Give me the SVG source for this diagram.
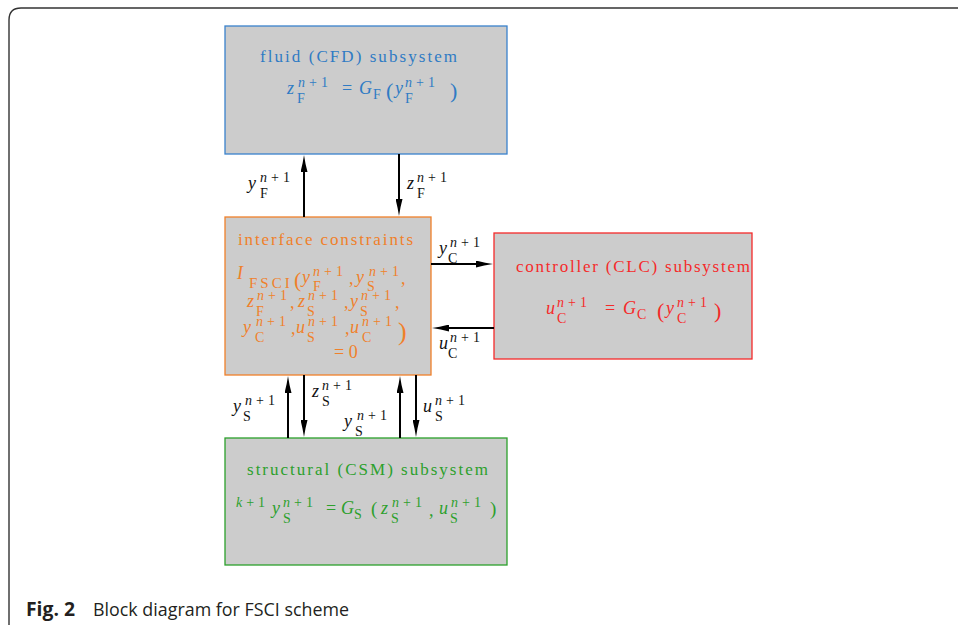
<svg xmlns="http://www.w3.org/2000/svg" width="958" height="625" viewBox="0 0 958 625">
<style>
text{font-family:"Liberation Serif","DejaVu Serif",serif}
.t{font-size:17px}
.m{font-size:18px}
.i{font-style:italic}
.s{font-size:14px;font-style:normal}
.sup{font-size:14px;letter-spacing:4px;font-style:normal}
.p{font-size:22px;font-style:normal}
.box{fill:#cccccc;stroke-width:1.3}
.blue{fill:#2f7bc4}
.orange{fill:#f0802a}
.red{fill:#f52a2a}
.green{fill:#2ca02c}
.k{fill:#111}
.cap{font-family:"Open Sans","Noto Sans","Liberation Sans",sans-serif;font-size:19px;fill:#231f20}
.con line{stroke:#000;stroke-width:2}
</style>
<defs>
<marker id="ah" viewBox="0 0 17 7" refX="9" refY="3.5" markerWidth="17" markerHeight="7" markerUnits="userSpaceOnUse" orient="auto">
<path d="M0,0 Q8,2.2 17,3.5 Q8,4.8 0,7 z" fill="#000"/>
</marker>
</defs>
<path d="M9,625 V20 Q9,8 21,8 H958" fill="none" stroke="#333" stroke-width="1.4"/>

<g id="fluid">
<rect class="box" x="225" y="26" width="282" height="128" stroke="#3a82cc"/>
<text class="t blue" x="260" y="62" textLength="197">fluid (CFD) subsystem</text>
<text class="m blue"><tspan class="i" x="287" y="94">z</tspan><tspan class="sup" x="298" y="87"><tspan class="i">n</tspan>+1</tspan><tspan class="s" x="297" y="103">F</tspan><tspan x="342" y="94">=</tspan><tspan class="i" x="359" y="94">G</tspan><tspan class="s" x="373" y="99">F</tspan><tspan class="p" x="386" y="98">(</tspan><tspan class="i" x="395" y="94">y</tspan><tspan class="sup" x="405" y="87"><tspan class="i">n</tspan>+1</tspan><tspan class="s" x="405" y="103">F</tspan><tspan class="p" x="450" y="98">)</tspan></text>
</g>

<g id="interface">
<rect class="box" x="225" y="217" width="206" height="158" stroke="#f0802a"/>
<text class="t orange" x="238" y="245" textLength="175">interface constraints</text>
<text class="m orange"><tspan class="i" x="237" y="279">I</tspan><tspan class="s" x="249" y="288" style="font-size:15px;letter-spacing:3px">FSCI</tspan><tspan class="p" x="294" y="287">(</tspan><tspan class="i" x="302" y="283">y</tspan><tspan class="sup" x="313" y="276"><tspan class="i">n</tspan>+1</tspan><tspan class="s" x="313" y="291">F</tspan><tspan x="349" y="284">,</tspan><tspan class="i" x="356" y="283">y</tspan><tspan class="sup" x="369" y="276"><tspan class="i">n</tspan>+1</tspan><tspan class="s" x="367" y="291">S</tspan><tspan x="401" y="284">,</tspan></text>
<text class="m orange"><tspan class="i" x="247" y="307">z</tspan><tspan class="sup" x="257" y="300"><tspan class="i">n</tspan>+1</tspan><tspan class="s" x="256" y="316">F</tspan><tspan x="290" y="308">,</tspan><tspan class="i" x="298" y="307">z</tspan><tspan class="sup" x="308" y="300"><tspan class="i">n</tspan>+1</tspan><tspan class="s" x="307" y="316">S</tspan><tspan x="344" y="308">,</tspan><tspan class="i" x="350" y="307">y</tspan><tspan class="sup" x="361" y="300"><tspan class="i">n</tspan>+1</tspan><tspan class="s" x="360" y="316">S</tspan><tspan x="395" y="308">,</tspan></text>
<text class="m orange"><tspan class="i" x="243" y="333">y</tspan><tspan class="sup" x="256" y="326"><tspan class="i">n</tspan>+1</tspan><tspan class="s" x="255" y="342">C</tspan><tspan x="291" y="334">,</tspan><tspan class="i" x="296" y="333">u</tspan><tspan class="sup" x="308" y="326"><tspan class="i">n</tspan>+1</tspan><tspan class="s" x="307" y="342">S</tspan><tspan x="345" y="334">,</tspan><tspan class="i" x="350" y="333">u</tspan><tspan class="sup" x="362" y="326"><tspan class="i">n</tspan>+1</tspan><tspan class="s" x="362" y="342">C</tspan><tspan class="p" x="398" y="340" style="font-size:26px">)</tspan></text>
<text class="m orange" x="334" y="358">= 0</text>
</g>

<g id="controller">
<rect class="box" x="494" y="233" width="258" height="126" stroke="#f52a2a"/>
<text class="t red" x="516" y="272" textLength="234">controller (CLC) subsystem</text>
<text class="m red"><tspan class="i" x="546" y="314">u</tspan><tspan class="sup" x="557" y="307"><tspan class="i">n</tspan>+1</tspan><tspan class="s" x="557" y="323">C</tspan><tspan x="605" y="314">=</tspan><tspan class="i" x="623" y="314">G</tspan><tspan class="s" x="637" y="319">C</tspan><tspan class="p" x="657" y="318">(</tspan><tspan class="i" x="666" y="314">y</tspan><tspan class="sup" x="677" y="307"><tspan class="i">n</tspan>+1</tspan><tspan class="s" x="677" y="323">C</tspan><tspan class="p" x="714" y="318">)</tspan></text>
</g>

<g id="structural">
<rect class="box" x="225" y="438" width="282" height="127" stroke="#2ca02c"/>
<text class="t green" x="247" y="475" textLength="241">structural (CSM) subsystem</text>
<text class="m green"><tspan class="sup" x="236" y="507"><tspan class="i">k</tspan>+1</tspan><tspan class="i" x="272" y="514">y</tspan><tspan class="sup" x="283" y="507"><tspan class="i">n</tspan>+1</tspan><tspan class="s" x="283" y="523">S</tspan><tspan x="326" y="514">=</tspan><tspan class="i" x="341" y="514">G</tspan><tspan class="s" x="354" y="519">S</tspan><tspan x="371" y="515" style="font-size:19px">(</tspan><tspan class="i" x="381" y="514">z</tspan><tspan class="sup" x="392" y="507"><tspan class="i">n</tspan>+1</tspan><tspan class="s" x="391" y="523">S</tspan><tspan x="429" y="516">,</tspan><tspan class="i" x="439" y="514">u</tspan><tspan class="sup" x="451" y="507"><tspan class="i">n</tspan>+1</tspan><tspan class="s" x="450" y="523">S</tspan><tspan x="490" y="515" style="font-size:19px">)</tspan></text>
</g>

<g id="connectors" class="con">
<line x1="304" y1="217" x2="304" y2="163" marker-end="url(#ah)"/>
<line x1="399" y1="154" x2="399" y2="208" marker-end="url(#ah)"/>
<line x1="431" y1="264" x2="485" y2="264" marker-end="url(#ah)"/>
<line x1="494" y1="328" x2="440" y2="328" marker-end="url(#ah)"/>
<line x1="288" y1="438" x2="288" y2="384" marker-end="url(#ah)"/>
<line x1="304" y1="375" x2="304" y2="429" marker-end="url(#ah)"/>
<line x1="400" y1="438" x2="400" y2="384" marker-end="url(#ah)"/>
<line x1="416" y1="375" x2="416" y2="429" marker-end="url(#ah)"/>
</g>

<g id="labels">
<text class="m k"><tspan class="i" x="248" y="189">y</tspan><tspan class="sup" x="260" y="182"><tspan class="i">n</tspan>+1</tspan><tspan class="s" x="260" y="198">F</tspan></text>
<text class="m k"><tspan class="i" x="407" y="189">z</tspan><tspan class="sup" x="417" y="182"><tspan class="i">n</tspan>+1</tspan><tspan class="s" x="417" y="198">F</tspan></text>
<text class="m k"><tspan class="i" x="439" y="254">y</tspan><tspan class="sup" x="450" y="247"><tspan class="i">n</tspan>+1</tspan><tspan class="s" x="448" y="263">C</tspan></text>
<text class="m k"><tspan class="i" x="439" y="349">u</tspan><tspan class="sup" x="450" y="342"><tspan class="i">n</tspan>+1</tspan><tspan class="s" x="448" y="358">C</tspan></text>
<text class="m k"><tspan class="i" x="233" y="412">y</tspan><tspan class="sup" x="245" y="405"><tspan class="i">n</tspan>+1</tspan><tspan class="s" x="243" y="421">S</tspan></text>
<text class="m k"><tspan class="i" x="312" y="397">z</tspan><tspan class="sup" x="322" y="390"><tspan class="i">n</tspan>+1</tspan><tspan class="s" x="322" y="406">S</tspan></text>
<text class="m k"><tspan class="i" x="344" y="427">y</tspan><tspan class="sup" x="357" y="420"><tspan class="i">n</tspan>+1</tspan><tspan class="s" x="355" y="436">S</tspan></text>
<text class="m k"><tspan class="i" x="423" y="412">u</tspan><tspan class="sup" x="435" y="405"><tspan class="i">n</tspan>+1</tspan><tspan class="s" x="435" y="421">S</tspan></text>
</g>

<g id="caption">
<text class="cap" x="26" y="616" font-weight="bold" textLength="49" lengthAdjust="spacingAndGlyphs">Fig. 2</text>
<text class="cap" x="93" y="616" textLength="256" lengthAdjust="spacingAndGlyphs">Block diagram for FSCI scheme</text>
</g>
</svg>
